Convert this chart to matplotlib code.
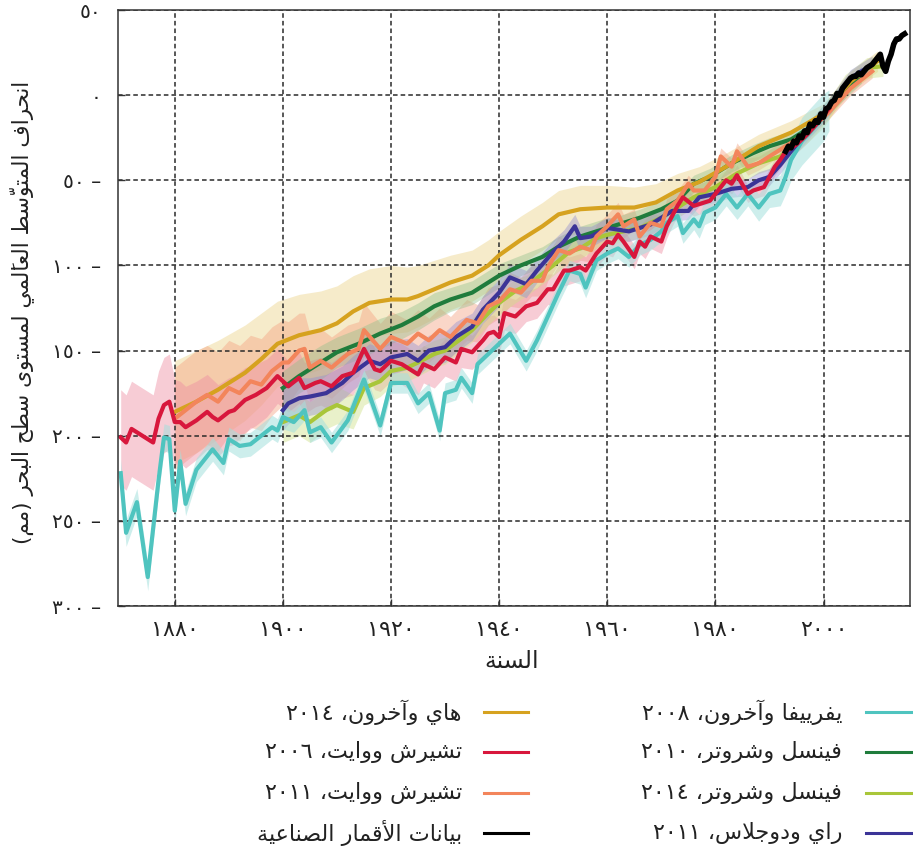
import numpy as np
import matplotlib
matplotlib.use("Agg")
import matplotlib.pyplot as plt
from matplotlib.lines import Line2D

plt.rcParams['font.family'] = ['DejaVu Sans']

# ---------------- data ----------------
jev_years = [1870, 1871, 1873, 1875, 1877, 1878, 1879, 1880, 1881, 1882, 1884, 1887, 1889, 1890,
             1892, 1894, 1896, 1898, 1899, 1900, 1902, 1904, 1905, 1907, 1909, 1912, 1913, 1915,
             1918, 1920, 1923, 1925, 1927, 1929, 1930, 1932, 1933, 1935, 1936, 1938, 1940, 1942,
             1945, 1947, 1949, 1951, 1953, 1955, 1956, 1958, 1960, 1962, 1964, 1966, 1968, 1970,
             1971, 1973, 1974, 1976, 1977, 1978, 1980, 1982, 1984, 1986, 1988, 1990, 1992, 1993,
             1994, 1996, 1998, 2000, 2001]
jev_vals = [-222, -257, -239, -283, -226, -201, -202, -244, -215, -240, -220, -208, -216, -202,
            -206, -205, -200, -195, -197, -189, -192, -185, -198, -195, -204, -191, -183, -167,
            -194, -169, -169, -181, -175, -197, -175, -173, -166, -175, -158, -152, -146, -140,
            -156, -144, -130, -116, -103, -105, -113, -97, -93, -90, -95, -88, -85, -80,
            -75, -71, -81, -73, -77, -69, -66, -58, -66, -58, -66, -58, -56, -48,
            -38, -27, -20, -13, -9]
jev_err = [8, 8, 8, 8, 8, 8, 8, 8, 7, 7, 7, 7, 7, 7,
           7, 7, 7, 7, 7, 7, 6, 6, 6, 6, 6, 6, 6, 6,
           6, 6, 6, 6, 6, 6, 6, 6, 6, 6, 6, 6, 6, 6,
           6, 6, 6, 6, 6, 6, 6, 6, 6, 6, 6, 6, 6, 6,
           6, 6, 6, 6, 7, 7, 7, 7, 7, 7, 8, 8, 9, 10,
           12, 14, 14, 14, 12]

cw06_years = [1870, 1871, 1872, 1874, 1876, 1877, 1878, 1879, 1880, 1881, 1882, 1884, 1886, 1887,
              1888, 1890, 1891, 1893, 1895, 1897, 1899, 1901, 1903, 1904, 1906, 1907, 1909, 1911,
              1913, 1915, 1917, 1918, 1920, 1922, 1923, 1925, 1926, 1928, 1930, 1932, 1933, 1935,
              1937, 1938, 1939, 1940, 1941, 1943, 1945, 1947, 1949, 1950, 1952, 1953, 1955, 1956,
              1958, 1960, 1961, 1962, 1963, 1965, 1966, 1967, 1968, 1970, 1971, 1972, 1973, 1974,
              1976, 1977, 1979, 1980, 1982, 1983, 1984, 1986, 1987, 1989, 1991, 1992, 1993, 1995,
              1997, 1999, 2001]
cw06_vals = [-201, -204, -196, -200, -204, -190, -182, -180, -192, -192, -195, -191, -186, -189,
             -191, -186, -185, -179, -176, -172, -165, -171, -166, -172, -169, -168, -171, -165,
             -163, -149, -161, -162, -156, -158, -160, -164, -158, -161, -154, -157, -149, -151,
             -144, -140, -139, -142, -128, -130, -124, -122, -114, -114, -103, -103, -101, -103,
             -93, -86, -87, -82, -86, -95, -86, -89, -83, -86, -77, -71, -65, -60,
             -65, -64, -62, -58, -50, -52, -47, -58, -56, -54, -42, -38, -33, -29,
             -23, -16, -8]
cw06_err = [28, 28, 28, 28, 28, 28, 28, 28, 25, 24, 24, 23, 22, 22,
            21, 20, 20, 19, 18, 17, 16, 15, 15, 15, 14, 14, 14, 13,
            13, 13, 12, 12, 12, 12, 12, 12, 11, 11, 11, 11, 11, 10,
            10, 10, 10, 10, 10, 10, 9, 9, 9, 9, 9, 8, 8, 8,
            8, 8, 8, 7, 7, 7, 7, 7, 7, 7, 7, 6, 6, 6,
            6, 6, 6, 6, 6, 6, 6, 5, 5, 5, 5, 5, 5, 5,
            5, 5, 5]

cw11_years = [1880, 1882, 1884, 1886, 1888, 1890, 1892, 1894, 1896, 1898, 1900, 1901, 1903, 1904,
              1905, 1907, 1909, 1912, 1914, 1915, 1918, 1920, 1923, 1925, 1927, 1929, 1931, 1934,
              1936, 1938, 1940, 1942, 1944, 1946, 1948, 1949, 1951, 1953, 1955, 1957, 1958, 1960,
              1962, 1963, 1965, 1966, 1968, 1970, 1971, 1973, 1975, 1976, 1978, 1980, 1981, 1983,
              1984, 1986, 1988, 1989, 1991, 1993, 1995, 1997, 1999, 2001, 2003, 2005, 2007, 2009]
cw11_vals = [-190, -185, -180, -176, -180, -172, -175, -168, -170, -162, -157, -157, -150, -149,
             -160, -156, -160, -152, -149, -138, -149, -142, -146, -140, -144, -138, -142, -132,
             -134, -124, -121, -114, -116, -109, -109, -101, -91, -93, -89, -91, -83, -77,
             -70, -77, -73, -83, -75, -77, -67, -62, -52, -56, -56, -48, -36, -42,
             -33, -42, -40, -38, -34, -30, -26, -21, -16, -10, -3, 4, 9, 14]
cw11_err = [30, 30, 30, 29, 29, 28, 28, 27, 27, 26, 25, 24, 22, 21,
            20, 19, 18, 17, 16, 16, 15, 15, 14, 14, 13, 13, 12, 12,
            11, 11, 10, 10, 9, 9, 9, 8, 8, 8, 8, 7, 7, 7,
            7, 7, 6, 6, 6, 6, 6, 6, 5, 5, 5, 5, 5, 5,
            5, 5, 4, 4, 4, 4, 4, 4, 4, 4, 4, 4, 4, 4]

hay_years = [1880, 1884, 1888, 1893, 1896, 1899, 1903, 1907, 1910, 1913, 1916, 1920, 1923, 1925,
             1928, 1931, 1935, 1938, 1940, 1944, 1948, 1951, 1955, 1960, 1965, 1969, 1973, 1977,
             1982, 1988, 1994, 2000, 2005, 2010]
hay_vals = [-186, -180, -173, -163, -155, -146, -141, -138, -134, -127, -122, -120, -120, -118,
            -114, -110, -106, -100, -94, -85, -77, -70, -67, -66, -66, -63, -56, -51,
            -42, -30, -22, -11, 8, 20]
hay_err = [30, 30, 29, 28, 27, 25, 24, 23, 22, 21, 20, 20, 19, 18,
           17, 16, 15, 15, 14, 14, 14, 14, 14, 13, 12, 11, 10, 9,
           8, 7, 7, 6, 6, 6]

ws10_years = [1900, 1903, 1907, 1910, 1914, 1918, 1922, 1925, 1928, 1931, 1935, 1938, 1940, 1944,
              1948, 1951, 1955, 1959, 1962, 1966, 1970, 1973, 1976, 1979, 1983, 1987, 1990, 1994,
              1998, 2002, 2007]
ws10_vals = [-172, -165, -157, -151, -146, -140, -135, -130, -124, -120, -116, -110, -106, -100,
             -95, -89, -83, -79, -76, -72, -67, -62, -52, -48, -40, -34, -30, -26,
             -18, -3, 12]
ws10_err = [10, 10, 10, 9, 9, 9, 8, 8, 8, 7, 7, 7, 7, 6,
            6, 6, 6, 6, 5, 5, 5, 5, 5, 5, 5, 5, 5, 5,
            5, 5, 5]

ws14_years = [1900, 1903, 1905, 1908, 1910, 1913, 1915, 1918, 1920, 1923, 1925, 1928, 1930, 1933,
              1935, 1938, 1940, 1943, 1945, 1948, 1950, 1953, 1955, 1958, 1960, 1963, 1966, 1970,
              1973, 1976, 1980, 1984, 1988, 1992, 1996, 2000, 2004, 2008, 2011]
ws14_vals = [-192, -188, -192, -185, -182, -186, -172, -168, -162, -160, -157, -152, -150, -143,
             -138, -128, -122, -115, -112, -105, -100, -92, -90, -84, -82, -80, -78, -72,
             -66, -60, -54, -46, -40, -36, -25, -13, 6, 16, 17]
ws14_err = [12, 12, 12, 11, 11, 10, 10, 9, 9, 8, 8, 8, 8, 7,
            7, 7, 7, 7, 6, 6, 6, 6, 6, 6, 6, 6, 6, 6,
            6, 6, 6, 6, 6, 6, 6, 6, 6, 6, 6]

rd11_years = [1900, 1901, 1903, 1905, 1908, 1911, 1913, 1916, 1918, 1920, 1923, 1925, 1927, 1930,
              1932, 1935, 1937, 1940, 1942, 1945, 1947, 1950, 1952, 1954, 1955, 1957, 1960, 1964,
              1968, 1972, 1975, 1977, 1980, 1983, 1986, 1988, 1990, 1992, 1995, 1998, 2001, 2005,
              2009]
rd11_vals = [-185, -181, -178, -177, -175, -169, -163, -156, -158, -154, -152, -156, -150, -148,
             -142, -136, -126, -116, -107, -111, -103, -92, -86, -77, -84, -83, -78, -80,
             -76, -68, -68, -60, -58, -55, -54, -50, -48, -41, -29, -18, -7, 10,
             18]
rd11_err = [12, 12, 12, 11, 11, 10, 10, 10, 10, 10, 9, 9, 9, 9,
            9, 8, 8, 8, 8, 8, 7, 7, 7, 7, 7, 6, 6, 6,
            6, 6, 5, 5, 5, 5, 5, 5, 5, 5, 5, 5, 5, 5,
            5]

sat_years = [1993.0, 1993.5, 1994.0, 1994.5, 1995.0, 1995.5, 1996.0, 1996.5, 1997.0, 1997.5,
             1998.0, 1998.5, 1999.0, 1999.5, 2000.0, 2000.5, 2001.0, 2001.5, 2002.0, 2002.5,
             2003.0, 2003.5, 2004.0, 2004.5, 2005.0, 2005.5, 2006.0, 2006.5, 2007.0, 2007.5,
             2008.0, 2008.5, 2009.0, 2009.5, 2010.0, 2010.5, 2011.0, 2011.5, 2012.0, 2012.5,
             2013.0, 2013.5, 2014.0, 2014.5, 2015.0]
sat_vals = [-33, -30, -31, -27, -28, -24, -25, -21, -22, -17,
            -18, -15, -16, -11, -13, -8, -7, -4, -3, 1,
            0, 4, 6, 8, 10, 11, 11, 13, 12, 14,
            16, 17, 18, 20, 22, 24, 17, 14, 20, 24,
            30, 33, 33, 35, 36]

x_ticks = [1880, 1900, 1920, 1940, 1960, 1980, 2000]
y_ticks = [50, 0, -50, -100, -150, -200, -250, -300]

labels = {
    'jev': "يفرييفا وآخرون، ٢٠٠٨",
    'ws10': "فينسل وشروتر، ٢٠١٠",
    'ws14': "فينسل وشروتر، ٢٠١٤",
    'rd11': "راي ودوجلاس، ٢٠١١",
    'hay': "هاي وآخرون، ٢٠١٤",
    'cw06': "تشيرش ووايت، ٢٠٠٦",
    'cw11': "تشيرش ووايت، ٢٠١١",
    'sat': "بيانات الأقمار الصناعية",
}
x_label = "السنة"
y_label = "انحراف المتوسّط العالَمي لمستوى سطح البحر (مم)"

# ---------------- Arabic shaping (logical -> visual presentation forms) ----------------
_tab = [(0x0621, 0xFE80, 0), (0x0622, 0xFE81, 1), (0x0623, 0xFE83, 1), (0x0624, 0xFE85, 1),
        (0x0625, 0xFE87, 1), (0x0626, 0xFE89, 2), (0x0627, 0xFE8D, 1), (0x0628, 0xFE8F, 2),
        (0x0629, 0xFE93, 1), (0x062A, 0xFE95, 2), (0x062B, 0xFE99, 2), (0x062C, 0xFE9D, 2),
        (0x062D, 0xFEA1, 2), (0x062E, 0xFEA5, 2), (0x062F, 0xFEA9, 1), (0x0630, 0xFEAB, 1),
        (0x0631, 0xFEAD, 1), (0x0632, 0xFEAF, 1), (0x0633, 0xFEB1, 2), (0x0634, 0xFEB5, 2),
        (0x0635, 0xFEB9, 2), (0x0636, 0xFEBD, 2), (0x0637, 0xFEC1, 2), (0x0638, 0xFEC5, 2),
        (0x0639, 0xFEC9, 2), (0x063A, 0xFECD, 2), (0x0641, 0xFED1, 2), (0x0642, 0xFED5, 2),
        (0x0643, 0xFED9, 2), (0x0644, 0xFEDD, 2), (0x0645, 0xFEE1, 2), (0x0646, 0xFEE5, 2),
        (0x0647, 0xFEE9, 2), (0x0648, 0xFEED, 1), (0x0649, 0xFEEF, 1), (0x064A, 0xFEF1, 2)]
FORMS = {}
for c, b, k in _tab:
    if k == 0:
        FORMS[chr(c)] = (chr(b), None, None, None)
    elif k == 1:
        FORMS[chr(c)] = (chr(b), chr(b + 1), None, None)
    else:
        FORMS[chr(c)] = (chr(b), chr(b + 1), chr(b + 2), chr(b + 3))
LAMALEF = {'\u0622': 0xFEF5, '\u0623': 0xFEF7, '\u0625': 0xFEF9, '\u0627': 0xFEFB}


def is_mark(ch):
    return '\u064B' <= ch <= '\u0652' or ch == '\u0670'


def shape(text):
    clusters = []
    for ch in text:
        if is_mark(ch) and clusters:
            clusters[-1][1] += ch
        else:
            clusters.append([ch, ''])
    merged = []
    i = 0
    while i < len(clusters):
        b, m = clusters[i]
        if b == '\u0644' and i + 1 < len(clusters) and clusters[i + 1][0] in LAMALEF:
            merged.append([('LA', clusters[i + 1][0]), m + clusters[i + 1][1]])
            i += 2
            continue
        merged.append([b, m])
        i += 1

    def is_ar(b):
        return isinstance(b, tuple) or b in FORMS

    def joins_next(b):
        return (not isinstance(b, tuple)) and b in FORMS and FORMS[b][2] is not None

    toks = []
    for i, (b, m) in enumerate(merged):
        if not is_ar(b):
            toks.append(b + m)
            continue
        prev = merged[i - 1][0] if i > 0 else None
        nxt = merged[i + 1][0] if i + 1 < len(merged) else None
        jp = prev is not None and joins_next(prev)
        if isinstance(b, tuple):
            base = LAMALEF[b[1]]
            toks.append(chr(base + 1 if jp else base) + m)
            continue
        iso, fin, ini, med = FORMS[b]
        jn = ini is not None and nxt is not None and is_ar(nxt)
        if jp and fin is None:
            jp = False
        if jp and jn:
            g = med
        elif jp:
            g = fin
        elif jn:
            g = ini
        else:
            g = iso
        toks.append(g + m)

    def is_digit(t):
        return ('\u0660' <= t[0] <= '\u0669') or t[0].isdigit()

    runs = []
    for t in toks:
        d = is_digit(t)
        if runs and runs[-1][0] == d:
            runs[-1][1].append(t)
        else:
            runs.append([d, [t]])
    mirror = {'(': ')', ')': '('}
    out = []
    for d, ts in reversed(runs):
        if d:
            out.extend(ts)
        else:
            out.extend(mirror.get(t, t) for t in reversed(ts))
    return ''.join(out)


AR_DIG = str.maketrans('0123456789', '٠١٢٣٤٥٦٧٨٩')


def ar_num(v):
    s = str(abs(int(v))).translate(AR_DIG)
    return s + ' \u2013' if v < 0 else s


# ---------------- figure ----------------
W, H = 913, 855
fig = plt.figure(figsize=(W / 100, H / 100), dpi=100)
ax = fig.add_axes([118 / W, 1 - 606 / H, (910 - 118) / W, (606 - 10) / H])

series = [
    # key, years, vals, err, line colour, band colour, band alpha
    ('hay', hay_years, hay_vals, hay_err, '#d6a21f', '#ecd48a', 0.45),
    ('cw11', cw11_years, cw11_vals, cw11_err, '#f3855b', '#f5a585', 0.45),
    ('cw06', cw06_years, cw06_vals, cw06_err, '#d8173c', '#ee8ea3', 0.45),
    ('ws14', ws14_years, ws14_vals, ws14_err, '#a9c639', '#cfe08a', 0.45),
    ('ws10', ws10_years, ws10_vals, ws10_err, '#1f7c3c', '#8fbf8a', 0.40),
    ('rd11', rd11_years, rd11_vals, rd11_err, '#3b3497', '#8f8bd0', 0.40),
    ('jev', jev_years, jev_vals, jev_err, '#4fc4bf', '#a5e0dd', 0.55),
]
for key, yrs, vals, err, lc, bc, ba in series:
    yrs = np.asarray(yrs, float)
    vals = np.asarray(vals, float)
    err = np.asarray(err, float)
    ax.fill_between(yrs, vals - err, vals + err, color=bc, alpha=ba, lw=0, zorder=1)

line_order = ['ws14', 'jev', 'ws10', 'hay', 'rd11', 'cw11', 'cw06']
colors = {}
for key, yrs, vals, err, lc, bc, ba in series:
    colors[key] = lc
zs = {k: 3 + i for i, k in enumerate(line_order)}
for key, yrs, vals, err, lc, bc, ba in series:
    ax.plot(yrs, vals, color=lc, lw=3.0, zorder=zs[key], solid_joinstyle='round')
colors['sat'] = '#000000'
ax.plot(sat_years, sat_vals, color='black', lw=4.0, zorder=20, solid_joinstyle='round')

ax.set_xlim(1869.5, 2016)
ax.set_ylim(-300, 50)
ax.set_xticks(x_ticks)
ax.set_xticklabels([str(v).translate(AR_DIG) for v in x_ticks], fontsize=16)
ax.set_yticks(y_ticks)
ax.set_yticklabels([ar_num(v) for v in y_ticks], fontsize=14.5)
ax.tick_params(axis='both', direction='in', length=5, width=1.0, color='#333333', labelcolor='#222222')
ax.tick_params(axis='x', pad=10)
ax.tick_params(axis='y', pad=12)
ax.grid(True, color='#2a2a2a', lw=1.1, linestyle=(0, (3, 2)), zorder=2)
ax.set_axisbelow(False)
for gl in ax.get_xgridlines() + ax.get_ygridlines():
    gl.set_zorder(2)
for s in ax.spines.values():
    s.set_color('#333333')
    s.set_linewidth(1.1)
    s.set_zorder(30)

fig.text(512 / W, 1 - 661 / H, shape(x_label), ha='center', va='center', fontsize=17, color='#222222')
fig.text(22 / W, 1 - 312 / H, shape(y_label), ha='center', va='center', rotation=90,
         fontsize=15.5, color='#222222')

# ---------------- legend (right-to-left, two columns) ----------------
rows_y = [712, 752, 793, 833]
right_col = ['jev', 'ws10', 'ws14', 'rd11']
left_col = ['hay', 'cw06', 'cw11', 'sat']
for col, (lx0, lx1, tx) in ((right_col, (866, 911, 842)), (left_col, (484, 528, 462))):
    for key, yp in zip(col, rows_y):
        fy = 1 - yp / H
        fig.add_artist(Line2D([lx0 / W, lx1 / W], [fy, fy], color=colors[key], lw=2.2,
                              transform=fig.transFigure))
        fig.text(tx / W, fy, shape(labels[key]), ha='right', va='center', fontsize=16,
                 color='#222222')

fig.savefig('out.png', dpi=100)
